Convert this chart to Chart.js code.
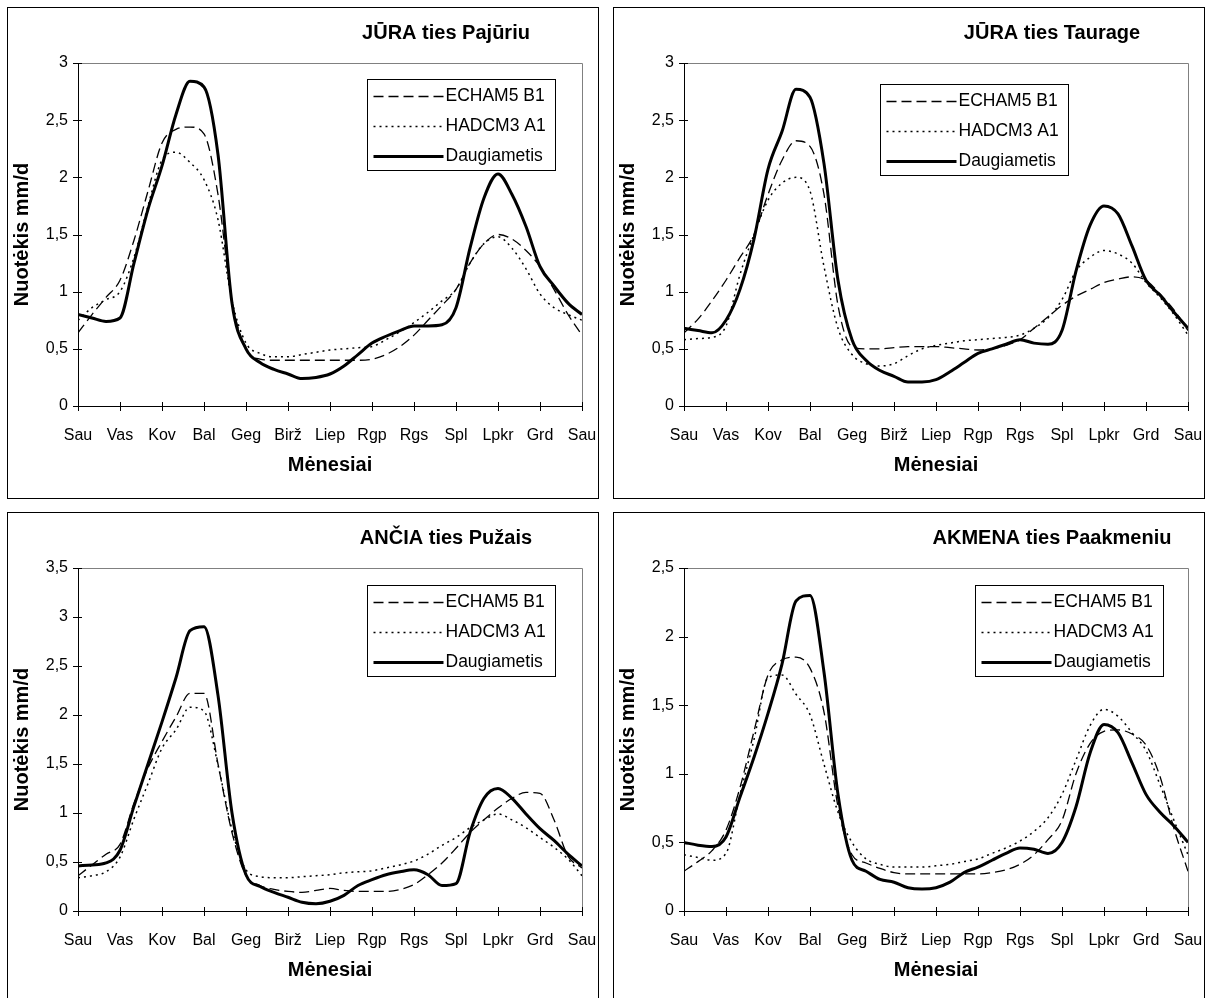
<!doctype html>
<html lang="lt">
<head>
<meta charset="utf-8">
<title>Nuotėkis</title>
<script src="https://cdn.jsdelivr.net/npm/chart.js@4.4.0/dist/chart.umd.min.js"></script>
<style>
  body { margin: 0; background: #fff; width: 1210px; height: 998px; overflow: hidden; position: relative; }
  .panel { position: absolute; border: 1px solid #000; width: 590px; height: 490px; background: #fff; }
  .panel canvas { display: block; }
</style>
</head>
<body>
<div class="panel" style="left:7px;top:7px"><canvas id="c0" width="590" height="490"></canvas></div>
<div class="panel" style="left:613px;top:7px"><canvas id="c1" width="590" height="490"></canvas></div>
<div class="panel" style="left:7px;top:512px"><canvas id="c2" width="590" height="490"></canvas></div>
<div class="panel" style="left:613px;top:512px"><canvas id="c3" width="590" height="490"></canvas></div>

<script>
// month labels on the x axis (one tick every 3 ten-day periods)
const MONTHS = ['Sau', 'Vas', 'Kov', 'Bal', 'Geg', 'Birž', 'Liep', 'Rgp', 'Rgs', 'Spl', 'Lpkr', 'Grd', 'Sau'];
const SERIES = ['ECHAM5 B1', 'HADCM3 A1', 'Daugiametis'];
const TITLES = ['JŪRA ties Pajūriu', 'JŪRA ties Taurage', 'ANČIA ties Pužais', 'AKMENA ties Paakmeniu'];
const Y_MAX = [3, 3, 3.5, 2.5];

// runoff, mm/d, per ten-day period (37 values, Sau .. Sau)
const juraPajEcham = [0.64,0.80,0.95,1.10,1.45,1.88,2.30,2.42,2.44,2.38,1.85,0.92,0.50,0.41,0.40,0.40,0.40,0.40,0.40,0.40,0.40,0.41,0.45,0.52,0.62,0.75,0.88,1.02,1.25,1.42,1.50,1.46,1.36,1.22,1.02,0.80,0.62];
const juraPajHadcm = [0.75,0.86,0.93,1.00,1.30,1.75,2.15,2.22,2.13,1.98,1.63,0.92,0.55,0.46,0.43,0.43,0.45,0.47,0.49,0.50,0.51,0.52,0.58,0.65,0.73,0.82,0.92,1.02,1.25,1.42,1.48,1.38,1.20,0.98,0.86,0.80,0.75];
const juraPajDaug  = [0.80,0.77,0.74,0.77,1.25,1.72,2.10,2.55,2.84,2.79,2.20,0.90,0.50,0.38,0.32,0.28,0.24,0.25,0.28,0.35,0.45,0.55,0.61,0.66,0.70,0.70,0.71,0.86,1.38,1.82,2.03,1.85,1.57,1.22,1.05,0.90,0.80];

const juraTauEcham = [0.64,0.76,0.92,1.10,1.30,1.50,1.85,2.15,2.32,2.27,1.85,0.88,0.52,0.50,0.50,0.51,0.52,0.52,0.52,0.51,0.50,0.49,0.50,0.53,0.58,0.68,0.78,0.88,0.96,1.02,1.08,1.11,1.13,1.10,0.98,0.84,0.66];
const juraTauHadcm = [0.58,0.59,0.60,0.70,1.15,1.50,1.80,1.95,2.00,1.88,1.22,0.68,0.45,0.37,0.35,0.37,0.44,0.50,0.53,0.55,0.57,0.58,0.59,0.60,0.62,0.68,0.77,0.93,1.18,1.30,1.36,1.33,1.25,1.08,0.95,0.80,0.62];
const juraTauDaug  = [0.68,0.66,0.64,0.75,1.02,1.46,2.07,2.40,2.77,2.70,2.12,1.10,0.58,0.40,0.31,0.26,0.21,0.21,0.23,0.30,0.38,0.46,0.50,0.54,0.58,0.55,0.54,0.66,1.18,1.58,1.75,1.68,1.40,1.10,0.97,0.82,0.68];

const anciaEcham = [0.36,0.47,0.58,0.68,1.10,1.46,1.73,1.98,2.22,2.22,1.50,0.80,0.36,0.26,0.22,0.20,0.19,0.21,0.23,0.21,0.20,0.20,0.20,0.22,0.27,0.37,0.49,0.64,0.80,0.93,1.05,1.15,1.21,1.20,0.93,0.56,0.44];
const anciaHadcm = [0.34,0.36,0.40,0.55,0.94,1.30,1.66,1.85,2.08,2.04,1.49,0.83,0.42,0.35,0.34,0.34,0.35,0.36,0.37,0.39,0.40,0.41,0.44,0.47,0.51,0.58,0.67,0.75,0.85,0.93,0.99,0.93,0.85,0.75,0.65,0.53,0.36];
const anciaDaug  = [0.46,0.47,0.49,0.62,1.07,1.50,1.93,2.38,2.86,2.90,2.20,1.00,0.37,0.25,0.19,0.14,0.09,0.075,0.10,0.16,0.26,0.32,0.37,0.40,0.42,0.37,0.26,0.28,0.80,1.15,1.25,1.15,0.99,0.84,0.72,0.58,0.46];

const akmenaEcham = [0.29,0.36,0.44,0.59,0.90,1.31,1.72,1.83,1.85,1.77,1.45,0.76,0.41,0.35,0.31,0.28,0.27,0.27,0.27,0.27,0.27,0.27,0.28,0.30,0.34,0.41,0.52,0.66,1.00,1.22,1.31,1.32,1.29,1.21,0.98,0.60,0.29];
const akmenaHadcm = [0.41,0.39,0.37,0.42,0.85,1.25,1.70,1.72,1.58,1.43,1.07,0.72,0.50,0.38,0.34,0.32,0.32,0.32,0.33,0.34,0.36,0.38,0.42,0.46,0.51,0.58,0.68,0.85,1.10,1.35,1.47,1.42,1.30,1.17,0.92,0.66,0.41];
const akmenaDaug  = [0.50,0.48,0.47,0.54,0.83,1.12,1.44,1.80,2.26,2.30,1.74,0.85,0.37,0.29,0.23,0.21,0.17,0.16,0.17,0.21,0.28,0.32,0.37,0.42,0.46,0.45,0.42,0.50,0.76,1.15,1.36,1.30,1.08,0.85,0.72,0.62,0.50];

const PANEL_DATA = [
  [juraPajEcham, juraPajHadcm, juraPajDaug],
  [juraTauEcham, juraTauHadcm, juraTauDaug],
  [anciaEcham, anciaHadcm, anciaDaug],
  [akmenaEcham, akmenaHadcm, akmenaDaug]
];

// legend box offset from the top-left corner of the plot area
const LEGEND_AT = [[289, 16], [196, 21], [289, 17], [291, 17]];

const FONT = '"Liberation Sans", Arial, sans-serif';
const STYLES = [
  { borderWidth: 1.3, borderDash: [10, 5] },
  { borderWidth: 1.5, borderDash: [2, 4] },
  { borderWidth: 3, borderDash: [] }
];

// plot frame, crossing tick marks, title and the boxed legend
const excelFrame = {
  id: 'excelFrame',
  beforeDatasetsDraw(chart, args, opts) {
    const { ctx, chartArea: a, scales: { x, y } } = chart;
    ctx.save();
    ctx.strokeStyle = '#808080';
    ctx.lineWidth = 1;
    ctx.beginPath();
    ctx.moveTo(a.left, Math.round(a.top) + 0.5);
    ctx.lineTo(Math.round(a.right) + 0.5, Math.round(a.top) + 0.5);
    ctx.lineTo(Math.round(a.right) + 0.5, a.bottom);
    ctx.stroke();

    ctx.strokeStyle = '#000';
    ctx.beginPath();
    x.ticks.forEach(t => {
      const px = Math.round(x.getPixelForValue(t.value)) + 0.5;
      ctx.moveTo(px, a.bottom - 4);
      ctx.lineTo(px, a.bottom + 5);
    });
    y.ticks.forEach(t => {
      const py = Math.round(y.getPixelForValue(t.value)) + 0.5;
      ctx.moveTo(a.left - 5, py);
      ctx.lineTo(a.left + 4, py);
    });
    ctx.stroke();

    ctx.fillStyle = '#000';
    ctx.font = 'bold 20px ' + FONT;
    ctx.textAlign = 'center';
    ctx.textBaseline = 'middle';
    ctx.fillText(opts.title, 438, 25);
    ctx.restore();
  },
  afterDatasetsDraw(chart, args, opts) {
    const { ctx, chartArea: a } = chart;
    const bx = Math.round(a.left + opts.legendAt[0]) + 0.5;
    const by = Math.round(a.top + opts.legendAt[1]) + 0.5;
    const w = 188, h = 91;
    ctx.save();
    ctx.fillStyle = '#fff';
    ctx.fillRect(bx, by, w, h);
    ctx.strokeStyle = '#000';
    ctx.lineWidth = 1;
    ctx.strokeRect(bx, by, w, h);
    ctx.font = '17.5px ' + FONT;
    ctx.textBaseline = 'middle';
    ctx.fillStyle = '#000';
    chart.data.datasets.forEach((ds, i) => {
      const ry = by + 17 + i * 30;
      ctx.beginPath();
      ctx.lineWidth = ds.borderWidth;
      ctx.setLineDash(ds.borderDash);
      ctx.moveTo(bx + 6, ry);
      ctx.lineTo(bx + 76, ry);
      ctx.stroke();
      ctx.setLineDash([]);
      ctx.fillText(ds.label, bx + 78, ry);
    });
    ctx.restore();
  }
};

PANEL_DATA.forEach((series, p) => {
  new Chart(document.getElementById('c' + p), {
    type: 'line',
    plugins: [excelFrame],
    data: {
      datasets: series.map((vals, i) => ({
        label: SERIES[i],
        data: vals.map((v, k) => ({ x: k, y: v })),
        borderColor: '#000',
        borderWidth: STYLES[i].borderWidth,
        borderDash: STYLES[i].borderDash,
        pointRadius: 0,
        fill: false,
        cubicInterpolationMode: 'monotone',
        order: 2 - i
      }))
    },
    options: {
      responsive: false,
      animation: false,
      events: [],
      layout: { padding: { left: 0, right: 16, top: 55, bottom: 0 } },
      plugins: {
        legend: { display: false },
        tooltip: { enabled: false },
        excelFrame: { title: TITLES[p], legendAt: LEGEND_AT[p] }
      },
      scales: {
        x: {
          type: 'linear',
          min: 0,
          max: 36,
          afterFit: s => { s.height = 92; s.paddingLeft = 0; s.paddingRight = 0; },
          grid: { display: false, drawTicks: false },
          border: { display: true, color: '#000', width: 1 },
          ticks: {
            stepSize: 3,
            padding: 20,
            maxRotation: 0,
            autoSkip: false,
            color: '#000',
            font: { family: FONT, size: 16 },
            callback: v => MONTHS[v / 3]
          },
          title: {
            display: true,
            text: 'Mėnesiai',
            color: '#000',
            font: { family: FONT, size: 20, weight: 'bold' },
            padding: { top: 0, bottom: 21 }
          }
        },
        y: {
          min: 0,
          max: Y_MAX[p],
          afterFit: s => { s.width = 70; s.paddingTop = 0; s.paddingBottom = 0; },
          grid: { display: false, drawTicks: false },
          border: { display: true, color: '#000', width: 1 },
          ticks: {
            stepSize: 0.5,
            padding: 10,
            color: '#000',
            font: { family: FONT, size: 16 },
            callback: v => String(v).replace('.', ',')
          },
          title: {
            display: true,
            text: 'Nuotėkis mm/d',
            color: '#000',
            font: { family: FONT, size: 20, weight: 'bold' },
            padding: { top: 2, bottom: 0 }
          }
        }
      }
    }
  });
});
</script>
</body>
</html>
